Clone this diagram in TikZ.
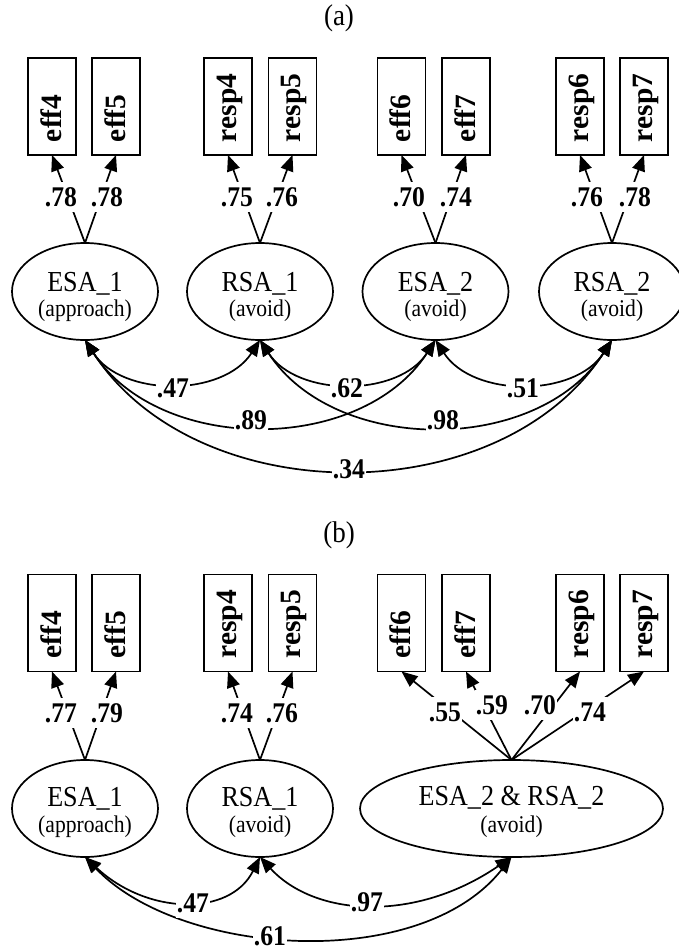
\documentclass[tikz,border=0pt]{standalone}
\usepackage{fontspec}
\setmainfont{Liberation Serif}
\usepackage{graphicx}
\usetikzlibrary{arrows.meta,shapes.geometric}

% narrow the text a little
\newcommand\hsq[1]{\scalebox{0.9}[1]{#1}}

\begin{document}
\begin{tikzpicture}[x=1pt,y=1pt,
  every node/.style={outer sep=0pt},
  ln/.style={line width=1.7pt},
  tip/.style={ln,-{Triangle[length=16pt,width=13pt]}},
  cov/.style={ln,{Triangle[length=16pt,width=13pt]}-{Triangle[length=16pt,width=13pt]}},
  ind/.style={draw,line width=1.7pt,minimum width=48pt,minimum height=97pt,inner sep=0pt},
  vt/.style={rotate=90,anchor=base west,inner sep=0pt,font=\bfseries\fontsize{29.5}{30}\selectfont},
  lat/.style={draw,ellipse,line width=1.7pt,minimum width=146pt,minimum height=97pt,inner sep=0pt},
  nm/.style={anchor=base,inner sep=0pt,font=\fontsize{29}{30}\selectfont},
  sub/.style={anchor=base,inner sep=0pt,font=\fontsize{24}{26}\selectfont},
  lbl/.style={fill=white,inner xsep=0.5pt,inner ysep=0pt,minimum height=30pt,
    font=\bfseries\fontsize{28.5}{30}\selectfont},
  ttl/.style={inner sep=0pt,font=\fontsize{30}{32}\selectfont}]

\useasboundingbox (0,0) rectangle (678,-951);

% ---------------- (a) four separate factors ----------------
\node[ttl] (ta) at (339,-18) {\hsq{(a)}};

\node[ind] (a-eff4)  at (52,-106.5)  {};
\node[ind] (a-eff5)  at (116,-106.5) {};
\node[ind] (a-resp4) at (228,-106.5) {};
\node[ind] (a-resp5) at (292.5,-106.5) {};
\node[ind] (a-eff6)  at (401.5,-106.5) {};
\node[ind] (a-eff7)  at (466,-106.5) {};
\node[ind] (a-resp6) at (580,-106.5) {};
\node[ind] (a-resp7) at (644,-106.5) {};

% indicator names, reading upwards from a common start line
\node[vt] (a-eff4t)  at (61,-142)    {eff4};
\node[vt] (a-eff5t)  at (125,-142)   {eff5};
\node[vt] (a-resp4t) at (236,-142)   {resp4};
\node[vt] (a-resp5t) at (300.5,-142) {resp5};
\node[vt] (a-eff6t)  at (410.5,-142) {eff6};
\node[vt] (a-eff7t)  at (475,-142)   {eff7};
\node[vt] (a-resp6t) at (588,-142)   {resp6};
\node[vt] (a-resp7t) at (652,-142)   {resp7};

\node[lat] (a-esa1) at (85,-291.5) {};
\node[lat] (a-rsa1) at (260,-291.5) {};
\node[lat] (a-esa2) at (435.5,-291.5) {};
\node[lat] (a-rsa2) at (612,-291.5) {};

\node[nm]  (a-esa1n) at (85,-291) {\hsq{ESA\_1}};
\node[sub] (a-esa1s) at (85,-316) {\hsq{(approach)}};
\node[nm]  (a-rsa1n) at (260,-291) {\hsq{RSA\_1}};
\node[sub] (a-rsa1s) at (260,-316) {\hsq{(avoid)}};
\node[nm]  (a-esa2n) at (435.5,-291) {\hsq{ESA\_2}};
\node[sub] (a-esa2s) at (435.5,-316) {\hsq{(avoid)}};
\node[nm]  (a-rsa2n) at (612,-291) {\hsq{RSA\_2}};
\node[sub] (a-rsa2s) at (612,-316) {\hsq{(avoid)}};

% loadings
\draw[tip] (a-esa1.north) -- (a-eff4.south);
\draw[tip] (a-esa1.north) -- (a-eff5.south);
\draw[tip] (a-rsa1.north) -- (a-resp4.south);
\draw[tip] (a-rsa1.north) -- (a-resp5.south);
\draw[tip] (a-esa2.north) -- (a-eff6.south);
\draw[tip] (a-esa2.north) -- (a-eff7.south);
\draw[tip] (a-rsa2.north) -- (a-resp6.south);
\draw[tip] (a-rsa2.north) -- (a-resp7.south);

% factor correlations
\draw[cov] (a-esa1.south) to[out=-57,in=-123] (a-rsa1.south);
\draw[cov] (a-rsa1.south) to[out=-57,in=-123] (a-esa2.south);
\draw[cov] (a-esa2.south) to[out=-57,in=-123] (a-rsa2.south);
\draw[cov] (a-esa1.south) to[out=-57,in=-123] (a-esa2.south);
\draw[cov] (a-rsa1.south) to[out=-57,in=-123] (a-rsa2.south);
\draw[cov] (a-esa1.south) to[out=-57,in=-123] (a-rsa2.south);

\node[lbl] (a-l1) at (61,-197)  {\hsq{.78}};
\node[lbl] (a-l2) at (107,-197) {\hsq{.78}};
\node[lbl] (a-l3) at (237,-197) {\hsq{.75}};
\node[lbl] (a-l4) at (282,-197) {\hsq{.76}};
\node[lbl] (a-l5) at (409,-197) {\hsq{.70}};
\node[lbl] (a-l6) at (456,-197) {\hsq{.74}};
\node[lbl] (a-l7) at (587,-197) {\hsq{.76}};
\node[lbl] (a-l8) at (635,-197) {\hsq{.78}};

\node[lbl] (a-c1) at (173,-388) {\hsq{.47}};
\node[lbl] (a-c2) at (347,-388) {\hsq{.62}};
\node[lbl] (a-c3) at (523,-388) {\hsq{.51}};
\node[lbl] (a-c4) at (251,-420) {\hsq{.89}};
\node[lbl] (a-c5) at (443,-420) {\hsq{.98}};
\node[lbl] (a-c6) at (349,-469) {\hsq{.34}};

% ---------------- (b) merged second-wave factor ----------------
\node[ttl] (tb) at (339,-535) {\hsq{(b)}};

\node[ind] (b-eff4)  at (52,-623)  {};
\node[ind] (b-eff5)  at (116,-623) {};
\node[ind] (b-resp4) at (228,-623) {};
\node[ind] (b-resp5) at (292.5,-623) {};
\node[ind] (b-eff6)  at (401.5,-623) {};
\node[ind] (b-eff7)  at (466,-623) {};
\node[ind] (b-resp6) at (580,-623) {};
\node[ind] (b-resp7) at (644,-623) {};

\node[vt] (b-eff4t)  at (61,-658.5)    {eff4};
\node[vt] (b-eff5t)  at (125,-658.5)   {eff5};
\node[vt] (b-resp4t) at (236,-658.5)   {resp4};
\node[vt] (b-resp5t) at (300.5,-658.5) {resp5};
\node[vt] (b-eff6t)  at (410.5,-658.5) {eff6};
\node[vt] (b-eff7t)  at (475,-658.5)   {eff7};
\node[vt] (b-resp6t) at (588,-658.5)   {resp6};
\node[vt] (b-resp7t) at (652,-658.5)   {resp7};

\node[lat] (b-esa1) at (85,-808.5) {};
\node[lat] (b-rsa1) at (260,-808.5) {};
\node[lat,minimum width=303pt] (b-both) at (511.5,-808.5) {};

\node[nm]  (b-esa1n) at (85,-806) {\hsq{ESA\_1}};
\node[sub] (b-esa1s) at (85,-832) {\hsq{(approach)}};
\node[nm]  (b-rsa1n) at (260,-806) {\hsq{RSA\_1}};
\node[sub] (b-rsa1s) at (260,-832) {\hsq{(avoid)}};
\node[nm]  (b-bothn) at (511.5,-805) {\hsq{ESA\_2 \& RSA\_2}};
\node[sub] (b-boths) at (511.5,-832) {\hsq{(avoid)}};

% loadings
\draw[tip] (b-esa1.north) -- (b-eff4.south);
\draw[tip] (b-esa1.north) -- (b-eff5.south);
\draw[tip] (b-rsa1.north) -- (b-resp4.south);
\draw[tip] (b-rsa1.north) -- (b-resp5.south);
\draw[tip] (b-both.north) -- (b-eff6.south);
\draw[tip] (b-both.north) -- (b-eff7.south);
\draw[tip] (b-both.north) -- (b-resp6.south);
\draw[tip] (b-both.north) -- (b-resp7.south);

% factor correlations
\draw[cov] (b-esa1.south) .. controls +(62,-58) and +(-30,-60) .. (b-rsa1.south);
\draw[cov] (b-rsa1.south) .. controls +(55,-60) and +(-96,-66) .. (b-both.south);
\draw[cov] (b-esa1.south) .. controls +(95,-100) and +(-90.5,-116) .. (b-both.south);

\node[lbl] (b-l1) at (61,-713)  {\hsq{.77}};
\node[lbl] (b-l2) at (107,-713) {\hsq{.79}};
\node[lbl] (b-l3) at (237,-713) {\hsq{.74}};
\node[lbl] (b-l4) at (282,-713) {\hsq{.76}};
\node[lbl] (b-l5) at (445,-712) {\hsq{.55}};
\node[lbl] (b-l6) at (492,-705) {\hsq{.59}};
\node[lbl] (b-l7) at (540,-705) {\hsq{.70}};
\node[lbl] (b-l8) at (590,-712) {\hsq{.74}};

\node[lbl] (b-c1) at (193,-903) {\hsq{.47}};
\node[lbl] (b-c2) at (367,-902) {\hsq{.97}};
\node[lbl] (b-c3) at (270,-936) {\hsq{.61}};
\end{tikzpicture}
\end{document}
